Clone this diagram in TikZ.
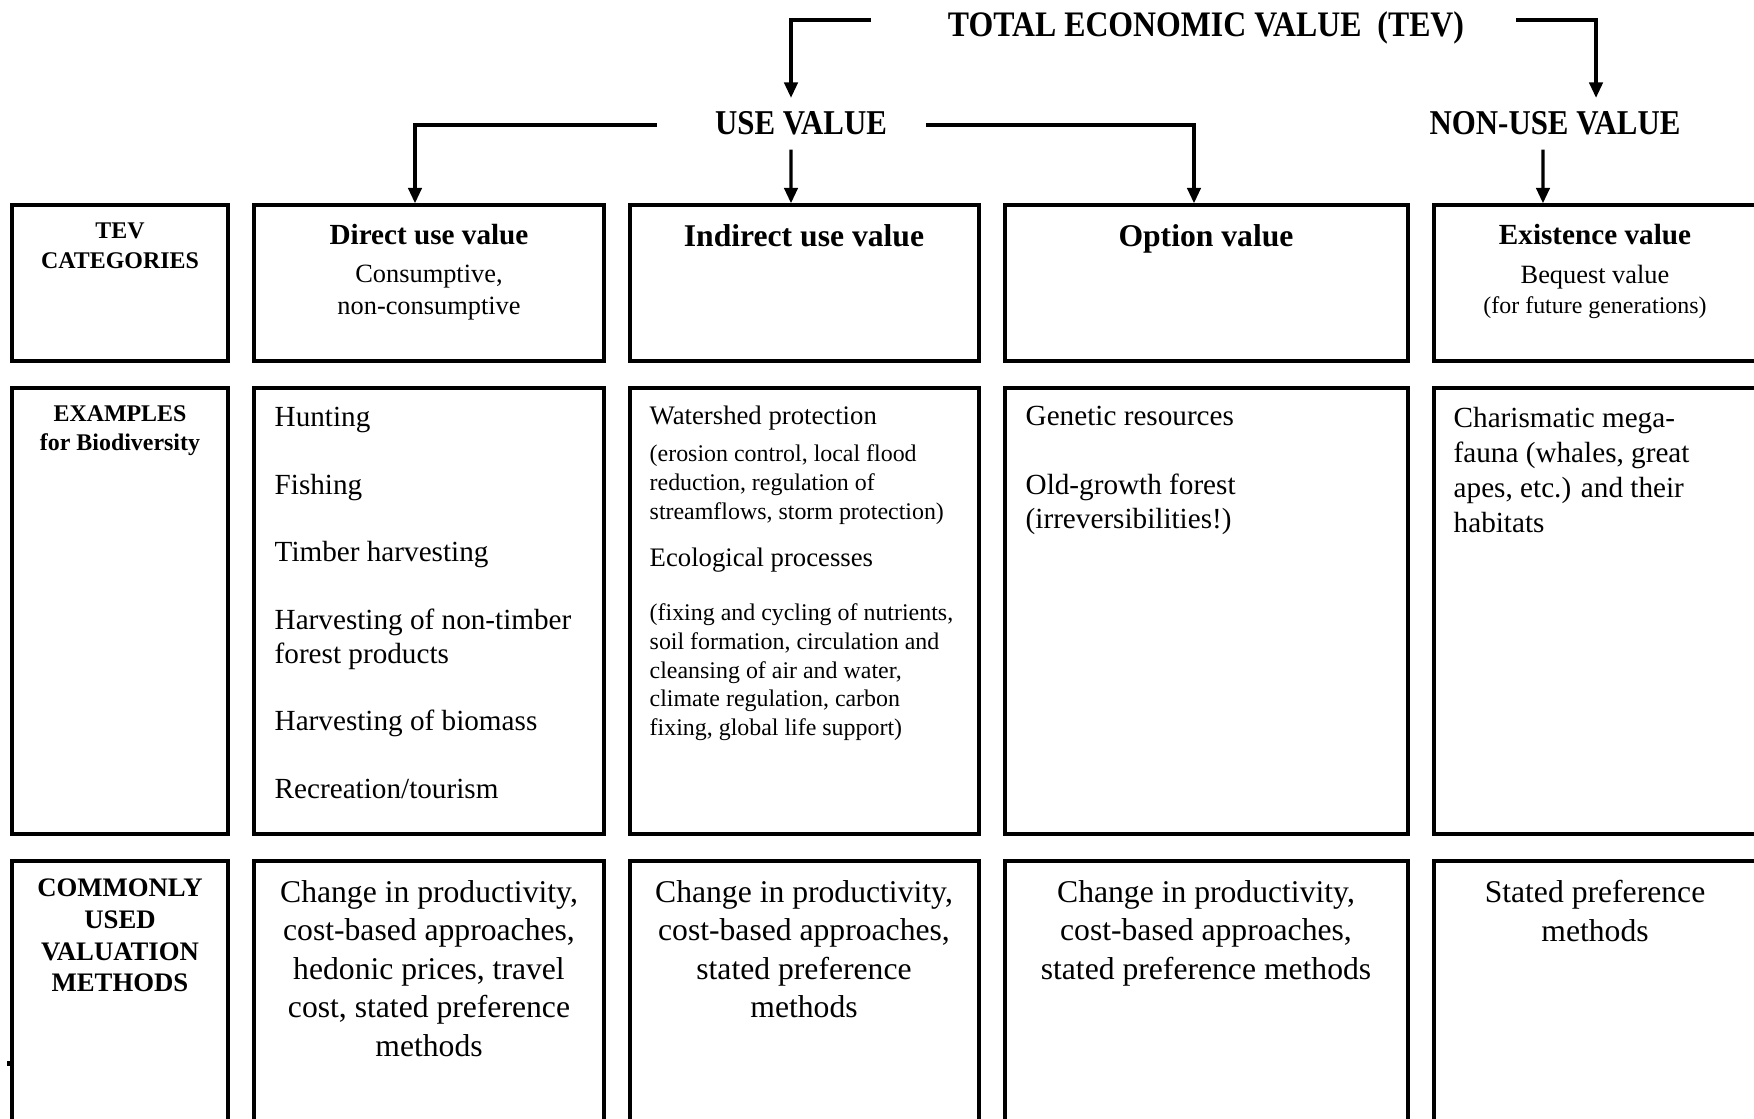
\documentclass[tikz,border=0pt]{standalone}
\usepackage{fontspec}
\setmainfont{Liberation Serif}
\newfontfamily\headfont[FakeStretch=0.887]{Liberation Serif}
\usetikzlibrary{arrows.meta,fit}

\begin{document}
\begin{tikzpicture}[x=0.01cm,y=-0.01cm,
  box/.style={draw,line width=0.95pt,inner sep=0pt},
  arr/.style={line width=0.95pt,-{Triangle[length=4.4pt,width=3.8pt]}},
  head/.style={anchor=base,inner sep=0pt,outer ysep=4pt,font=\headfont\bfseries},
  lbl/.style={anchor=north,inner sep=0pt,align=center},
  lst/.style={anchor=north west,inner sep=0pt,align=left}]
  \useasboundingbox (0,0) rectangle (1754,1119);

  % three rows of boxes, one column per category
  \foreach \n/\l/\r in {0/12/228,1/254/604,2/630/979,3/1005/1408,4/1434/1760}{
    \node[box,fit={(\l,205) (\r,361)}] (cat\n) {};
    \node[box,fit={(\l,388) (\r,834)}] (ex\n) {};
    \node[box,fit={(\l,861) (\r,1130)}] (meth\n) {};
  }
  \fill (7,1061) rectangle (12,1066);

  % headings
  \node[head,font=\headfont\bfseries\fontsize{10.2}{12}\selectfont] (tev) at (1206,37) {TOTAL ECONOMIC VALUE~~(TEV)};
  \node[head,font=\headfont\bfseries\fontsize{9.9}{11}\selectfont] (use) at (801,135) {USE VALUE};
  \node[head,font=\headfont\bfseries\fontsize{9.9}{11}\selectfont] (non) at (1555,135) {NON-USE VALUE};

  \coordinate (tevL) at (871,20);
  \coordinate (tevR) at (1516,20);
  \coordinate (useL) at (657,125);
  \coordinate (useR) at (926,125);

  \draw[arr] (tevL) -| ([xshift=-0.1cm]use.north);
  \draw[arr] (tevR) -| ([xshift=0.41cm]non.north);
  \draw[arr] (useL) -| ([xshift=-0.14cm]cat1.north);
  \draw[arr] ([xshift=-0.1cm]use.south) -- ([xshift=-0.135cm]cat2.north);
  \draw[arr] (useR) -| ([xshift=-0.125cm]cat3.north);
  \draw[arr] ([xshift=-0.12cm]non.south) -- ([xshift=-0.54cm]cat4.north);

  % row labels
  \node[lbl,font=\bfseries\fontsize{6.8}{8.5}\selectfont] (catlbl) at (120,222) {TEV\\CATEGORIES};
  \node[lbl,font=\bfseries\fontsize{6.8}{8.25}\selectfont] (exlbl) at (120,404.5) {EXAMPLES\\for Biodiversity};
  \node[lbl,font=\bfseries\fontsize{7.6}{9}\selectfont] (methlbl) at (120,878.5) {COMMONLY\\USED\\VALUATION\\METHODS};

  % TEV categories
  \node[lbl,font=\bfseries\fontsize{8.3}{10}\selectfont] (direct) at (429,223.5) {Direct use value};
  \node[lbl,font=\fontsize{7.5}{9.1}\selectfont] (directsub) at (429,264.5) {Consumptive,\\non-consumptive};
  \node[lbl,font=\bfseries\fontsize{9}{11}\selectfont] (indirect) at (804,223.5) {Indirect use value};
  \node[lbl,font=\bfseries\fontsize{9}{11}\selectfont] (option) at (1206,223.5) {Option value};
  \node[lbl,font=\bfseries\fontsize{8.3}{10}\selectfont] (exist) at (1595,223.5) {Existence value};
  \node[lbl,font=\fontsize{7.5}{9.1}\selectfont] (bequest) at (1595,264.5) {Bequest value};
  \node[lbl,font=\fontsize{6.8}{8.2}\selectfont] (future) at (1595,296) {(for future generations)};

  % examples
  \node[lst,font=\fontsize{8.3}{9.62}\selectfont] (exdirect) at (274,406.5) {Hunting\\[9.62pt]Fishing\\[9.62pt]Timber harvesting\\[9.62pt]Harvesting of non-timber\\forest products\\[9.62pt]Harvesting of biomass\\[9.62pt]Recreation/tourism};
  \node[lst,font=\fontsize{7.6}{9}\selectfont] (watershed) at (649,405.4) {Watershed protection};
  \node[lst,font=\fontsize{6.8}{8.25}\selectfont] (watersheddet) at (649,444) {(erosion control, local flood\\reduction, regulation of\\streamflows, storm protection)};
  \node[lst,font=\fontsize{7.6}{9}\selectfont] (ecoproc) at (649,547.4) {Ecological processes};
  \node[lst,font=\fontsize{6.8}{8.18}\selectfont] (ecoprocdet) at (649,603) {(fixing and cycling of nutrients,\\soil formation, circulation and\\cleansing of air and water,\\climate regulation, carbon\\fixing, global life support)};
  \node[lst,font=\fontsize{8.3}{9.8}\selectfont] (exoption) at (1025,405.5) {Genetic resources\\[9.8pt]Old-growth forest\\(irreversibilities!)};
  \node[lst,font=\fontsize{8.3}{9.96}\selectfont] (exexist) at (1453,406.5) {Charismatic mega-\\fauna (whales, great\\apes, etc.) and their\\habitats};

  % valuation methods
  \node[lbl,font=\fontsize{9}{10.95}\selectfont] (mdirect) at (429,879.6) {Change in productivity,\\cost-based approaches,\\hedonic prices, travel\\cost, stated preference\\methods};
  \node[lbl,font=\fontsize{9}{10.95}\selectfont] (mindirect) at (804,879.6) {Change in productivity,\\cost-based approaches,\\stated preference\\methods};
  \node[lbl,font=\fontsize{9}{10.95}\selectfont] (moption) at (1206,879.6) {Change in productivity,\\cost-based approaches,\\stated preference methods};
  \node[lbl,font=\fontsize{9}{10.95}\selectfont] (mexist) at (1595,879.6) {Stated preference\\methods};
\end{tikzpicture}
\end{document}
